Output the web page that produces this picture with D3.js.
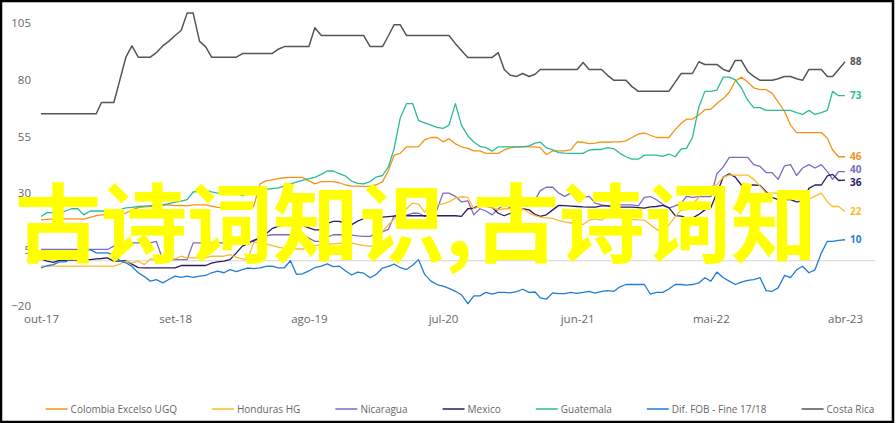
<!DOCTYPE html>
<html><head><meta charset="utf-8">
<script src="https://cdn.jsdelivr.net/npm/d3@7"></script>
<style>
html,body{margin:0;padding:0;background:#fff;}
svg{display:block;}
</style></head>
<body><div id="chart"></div>
<script>
// ---- data (half-month observations, Oct 2017 .. Apr 2023) ----
const seriesNames = ["Colombia Excelso UGQ","Honduras HG","Nicaragua","Mexico","Guatemala","Dif. FOB - Fine 17/18","Costa Rica"];
const seriesColors = ["#f39314","#fbbb2c","#7c6bc0","#2b1b63","#2bbb98","#1f7dd3","#555555"];

const colombia = [18.1,18.3,18.5,18.5,18.5,18.5,18.5,18.4,19.2,20,
20.3,20.3,20.4,21.1,21.1,22.5,23.5,23.8,23.9,24,
24.5,24.7,24.4,24.5,24.3,24.7,24.7,24.7,24.2,23.6,
23.5,23.3,23.6,24,24,24,34,35.3,35.8,36.3,
36.7,36.9,36.9,36.9,35.3,34,35,35,35,34.5,
33.5,33,33,32.9,33,33.5,35,40,46.7,47.5,
50.4,50.4,50.5,53.5,54.5,54.5,52.6,54,51.7,50.4,
49.7,48.6,48.6,47.5,47.5,47.5,49,49.9,50.4,50.4,
50.4,50.4,50,47,48.6,48.6,48.6,49,52.6,52.4,
51.8,52,52.6,52.4,52.6,52.6,53,54.5,56,56.5,
55.5,54.5,54.5,54.5,58,60.8,62.6,62.6,64.5,66.8,
67,69.5,71.7,74.5,79.5,81.2,79,76.5,75.7,75.7,
74,70.3,66,60,56.7,56.7,56.7,56.7,56.7,54.2,
49,46,46];

const honduras = [-2.4,-2.4,-2.4,-2.4,-2.4,-2.4,-2.4,-2.4,-2.4,-2.4,
-2.4,-2.4,-2.4,-1.5,-0.2,-0.9,-0.2,-1.7,0.8,0.5,
0.8,0.8,0.8,2,1.3,1.3,1.3,1.3,2,2,
2,2.7,1.5,0.8,0.5,8,8,7.3,6.8,6,
5.5,5.2,5.2,5.2,6,6.7,7,7.3,7.5,7.7,
7.9,7.9,7.2,6.8,6.4,7,13,16,18.5,20.3,
23,25.5,25,21.5,24.7,24.7,25.2,26,27.7,28.3,
28,23,24,24,23.5,22.5,23,23,23,23,
21.2,20,19.3,19,18.7,17.8,17.2,16.7,16.7,16,
18,18.5,18,19.6,19.2,19.3,19.5,18.3,18.1,18,
15.9,14,12.5,15.8,19.5,22.5,22.5,25,28,31.5,
32.8,33.7,37,37.9,37.9,37.9,37.9,36,33,29.9,
29.9,29.9,29.3,28.8,28.2,27.5,27.3,28.6,29.9,26,
24,24,21.8];

const nicaragua = [5,5,5,5,5,5,5,5,5,5,
5,5,6.5,7.9,7.9,7.9,7.9,7.9,7.9,8.6,
0.5,0.5,0.5,0.5,0.5,7.9,7.9,7.9,7.9,7.9,
7.9,8.6,8.6,8.6,8.6,8.6,10,11,11.5,11.5,
11.5,11.5,11.5,11.5,10,8.6,8.6,10.5,11.5,11.5,
11.5,11.3,11,10.8,10.8,12.3,12.8,14,19.9,20.1,
20.2,21,21,19.6,19.6,22.5,29.9,29.9,28.5,26,
26.5,20.3,23,22,20.3,23,24.7,23.5,23.5,24.7,
24.7,27,31,32.5,32.5,29.9,28.5,29.9,26.9,28,
28.5,25.5,24.7,24.3,24,24.7,24.7,24.7,24.3,28,
28.4,27,25,23.3,24.3,25.5,28.5,28,28.4,28.4,
28.4,38.5,41.5,45.7,45.7,45.7,45.7,42.5,41.7,39,
39,36,42,42.5,37.7,41,42.5,41,42.5,39.4,
36,39.4,39.4];

const mexico = [0.8,-0.2,-0.7,0.2,0.2,0.3,0.4,0.5,0.5,0.8,
1,1.3,-0.2,-0.2,0,-1.5,-3,-3.1,-3.1,-3.1,
-3.1,-3.1,-3.1,-2.1,-2.1,-2.1,-2.1,-2.1,-1,-0.5,
-0.2,0.5,3.5,6.5,7.5,9,10.1,12,14.2,15.2,
15.9,15.7,15.5,15.8,14.5,13.7,13.7,16.5,17.4,17.4,
16.5,16,17.5,18.7,19.3,19.3,19.3,19.5,19.7,19.9,
19.9,19.9,19.9,19.9,19.9,19.9,19.9,19.9,19.9,19.6,
23,23.3,24.7,24.3,23.5,21,19.9,21,23,23,
22.5,20.5,19.6,20.3,22.5,24.5,24.4,24.2,24,23.8,
23.7,23.7,24.3,24.3,24,23.7,23.7,23.7,23.5,23.3,
23.8,24,24.5,23.5,20,19.7,18.9,18.9,20.5,22.5,
23.5,30,37,38.5,37,33.5,33.5,33.5,33.3,30.5,
28,27,27,27,26,26.5,32,33.5,33.5,37.5,
38.2,35.5,35.7];

const guatemala = [19.6,21.3,21.3,21.3,22,23,23,20.3,22,22,
22,22,22,22.5,23.4,23.6,24,24.2,24.4,24.6,
24.7,25.3,25.9,26.4,27,30.4,30.8,31.2,30.5,29.9,
29.9,29.9,29.9,28.7,29.9,30.5,31.3,31.6,31.9,32.2,
33,34,34.8,35.5,36.3,36.9,38.2,39.7,39.7,38.5,
37.4,35.2,34.2,34,35,37,37.7,41.6,49.7,63,
69.5,69.5,62,61,60,59,58.5,60,69.5,60,
55.2,52.5,50.6,50,48.5,50.4,50.4,50.4,50.4,50.4,
50.8,52,52.5,50,49,47.8,47.6,47.5,47.5,47.5,
49,49.2,49.2,50,49.5,47.5,46,44.9,44.9,46.7,
46.7,46.7,46.2,47.2,46,49.5,49.7,54.5,68,74.9,
74.9,75.5,81.2,81.2,80,76.5,71,67.7,67.7,66.5,
66.5,66.5,66.5,66.5,65.5,64.7,66.5,64.7,65.5,66.5,
74.9,73,73];

const difFob = [-3.1,-2.2,-1.7,-0.5,-0.5,0.9,3,4.5,4.9,3.5,
3.5,3.5,2.5,0,-0.9,-2.5,-5.3,-7,-9,-8.3,
-9.8,-8.3,-6.8,-7.3,-6.8,-7.3,-6.8,-6.5,-5.3,-4.6,
-5.3,-3.9,-4.8,-3.9,-3.2,-3.5,-3.1,-2.5,-2.4,-3.1,
-3.1,0,-6,-5.8,-4.5,-3,-2.4,-1.4,-2.6,-2.4,
-4.5,-6.3,-5,-5.5,-7.5,-6,-3.2,-2.5,-1.5,-3,
-3.9,-2,0.5,-6,-9,-10.5,-11.2,-12.2,-13.5,-15,
-19,-15.5,-15.5,-14,-14.7,-14,-14,-14.2,-13.6,-12.6,
-14,-13.8,-16.4,-17,-14.2,-14.5,-14.5,-14,-14.4,-14,
-13.5,-14.3,-13.5,-13.2,-13.5,-11.5,-10.5,-10.5,-10.5,-10.5,
-14.8,-14,-14,-12.5,-10.5,-10.5,-10.8,-10.5,-9.8,-7.5,
-9,-5,-7.5,-9,-10.5,-9.4,-8.7,-8.3,-7.5,-13.2,
-13.5,-12,-6.5,-7.5,-4,-2.4,-5.3,-4,3.5,8.6,
8.6,9,9.3];

const costaRica = [65,65,65,65,65,65,65,65,65,65,
70,70,70,80,90,95,90,90,90,92,
95,97,99.6,101.8,109.5,109.5,97,94.7,90,90,
90,90,90,91.6,91.6,91.6,91.6,91.6,91.6,93.5,
94.7,94.7,94.7,94.7,94.7,103,99.6,99.6,99.6,99.6,
99.6,99.6,99.6,99.6,94.7,94.7,94.7,99.6,104.4,104.4,
99.6,99.6,99.6,99.6,99.6,99.6,99.6,99.6,96,93,
89.9,89.9,89.9,89.9,89.9,92,84.6,82,81.5,82.8,
81.5,82.5,84.6,84.6,84.6,84.6,84.6,84.6,84.6,87.7,
84.6,84.6,84.6,82,79.8,79.8,79.8,77,74.9,74.9,
74.9,74.9,74.9,74.9,79,82.8,82.8,82.8,88,86.8,
86.8,86.8,84.6,83.7,88.6,88.6,83.7,81.5,79.8,79.8,
79.8,80.5,81.5,81.5,80.5,79.8,84.6,84.6,84.6,81.5,
81.5,84.6,88];

const seriesValues = [colombia, honduras, nicaragua, mexico, guatemala, difFob, costaRica];
const endLabels = [46, 22, 40, 36, 73, 10, 88];

// half-month observation dates
const dates = colombia.map((_, i) => new Date(2017, 9 + Math.floor(i / 2), i % 2 ? 16 : 1));

const yTicks = [-20, 5, 30, 55, 80, 105];
const xTickDates = [new Date(2017,9,1), new Date(2018,8,1), new Date(2019,7,1), new Date(2020,6,1), new Date(2021,5,1), new Date(2022,4,1), new Date(2023,3,1)];
const xTickLabels = ["out-17","set-18","ago-19","jul-20","jun-21","mai-22","abr-23"];
const watermark = "古诗词知识,古诗词知";

// ---- drawing ----
const W = 896, H = 423;
const svg = d3.select("#chart").append("svg").attr("width", W).attr("height", H);
svg.append("rect").attr("width", W).attr("height", H).attr("fill", "#fff");

const x = d3.scaleTime().domain([dates[0], dates[dates.length - 1]]).range([41, 845]);
const y = d3.scaleLinear().domain([-20, 105]).range([306, 23.3]);
const font = "'Open Sans', sans-serif";

// zero line
svg.append("line").attr("x1", 26).attr("x2", 875).attr("y1", y(0)).attr("y2", y(0))
  .attr("stroke", "#d4d4d4").attr("stroke-width", 1);

// y axis
const yAxis = svg.append("g").attr("transform", "translate(31,0)")
  .call(d3.axisLeft(y).tickValues(yTicks).tickSize(0).tickPadding(0));
yAxis.select(".domain").remove();
yAxis.selectAll("text").attr("font-family", font).attr("font-size", 11.5).attr("fill", "#666");

// x axis
const xAxis = svg.append("g").attr("transform", `translate(0,${y(-20)})`)
  .call(d3.axisBottom(x).tickValues(xTickDates).tickSize(0).tickPadding(9)
    .tickFormat((d, i) => xTickLabels[i]));
xAxis.select(".domain").remove();
xAxis.selectAll("text").attr("font-family", font).attr("font-size", 11.5).attr("fill", "#666");

// lines
const line = d3.line().x((d, i) => x(dates[i])).y(d => y(d));
const order = [2, 3, 1, 5, 0, 4, 6];
order.forEach(k => {
  svg.append("path").datum(seriesValues[k]).attr("d", line)
    .attr("fill", "none").attr("stroke", seriesColors[k])
    .attr("stroke-width", k === 6 ? 1.5 : 1.3).attr("stroke-linejoin", "round");
});

// end labels with simple collision avoidance
const labs = seriesValues.map((v, k) => ({k, text: String(endLabels[k]), y: y(v[v.length - 1])}))
  .sort((a, b) => a.y - b.y);
for (let it = 0; it < 30; it++) {
  for (let j = 1; j < labs.length; j++) {
    const gap = labs[j].y - labs[j - 1].y;
    if (gap < 12.5) { const d = (12.5 - gap) / 2; labs[j].y += d; labs[j - 1].y -= d; }
  }
}
svg.append("g").selectAll("text").data(labs).join("text")
  .attr("x", 850).attr("y", d => d.y).attr("dy", "0.35em")
  .attr("font-family", font).attr("font-weight", 700).attr("font-size", 10)
  .attr("fill", d => seriesColors[d.k]).text(d => d.text);

// legend
const legend = svg.append("g");
let lx = 0;
seriesNames.forEach((name, k) => {
  const g = legend.append("g");
  g.append("line").attr("x1", 0).attr("x2", 22).attr("y1", 0).attr("y2", 0)
    .attr("stroke", seriesColors[k]).attr("stroke-width", 1.5);
  const t = g.append("text").attr("x", 25).attr("y", 0).attr("dy", "0.35em")
    .attr("font-family", font).attr("font-size", 10).attr("fill", "#666").text(name);
  const w = 25 + t.node().getComputedTextLength();
  g.attr("transform", `translate(${lx},0)`);
  lx += w + 35;
});
const totalW = lx - 35;
legend.attr("transform", `translate(${460 - totalW / 2},409)`);

// watermark overlay
svg.append("text").attr("x", 15).attr("y", 256)
  .attr("font-family", "'Noto Sans CJK SC', sans-serif").attr("font-weight", 700)
  .attr("font-size", 86).attr("fill", "#ffff00").text(watermark);

// frame
svg.append("rect").attr("x", 1).attr("y", 1).attr("width", W - 4).attr("height", H - 2)
  .attr("fill", "none").attr("stroke", "#000").attr("stroke-width", 2.5);
</script>
</body></html>
